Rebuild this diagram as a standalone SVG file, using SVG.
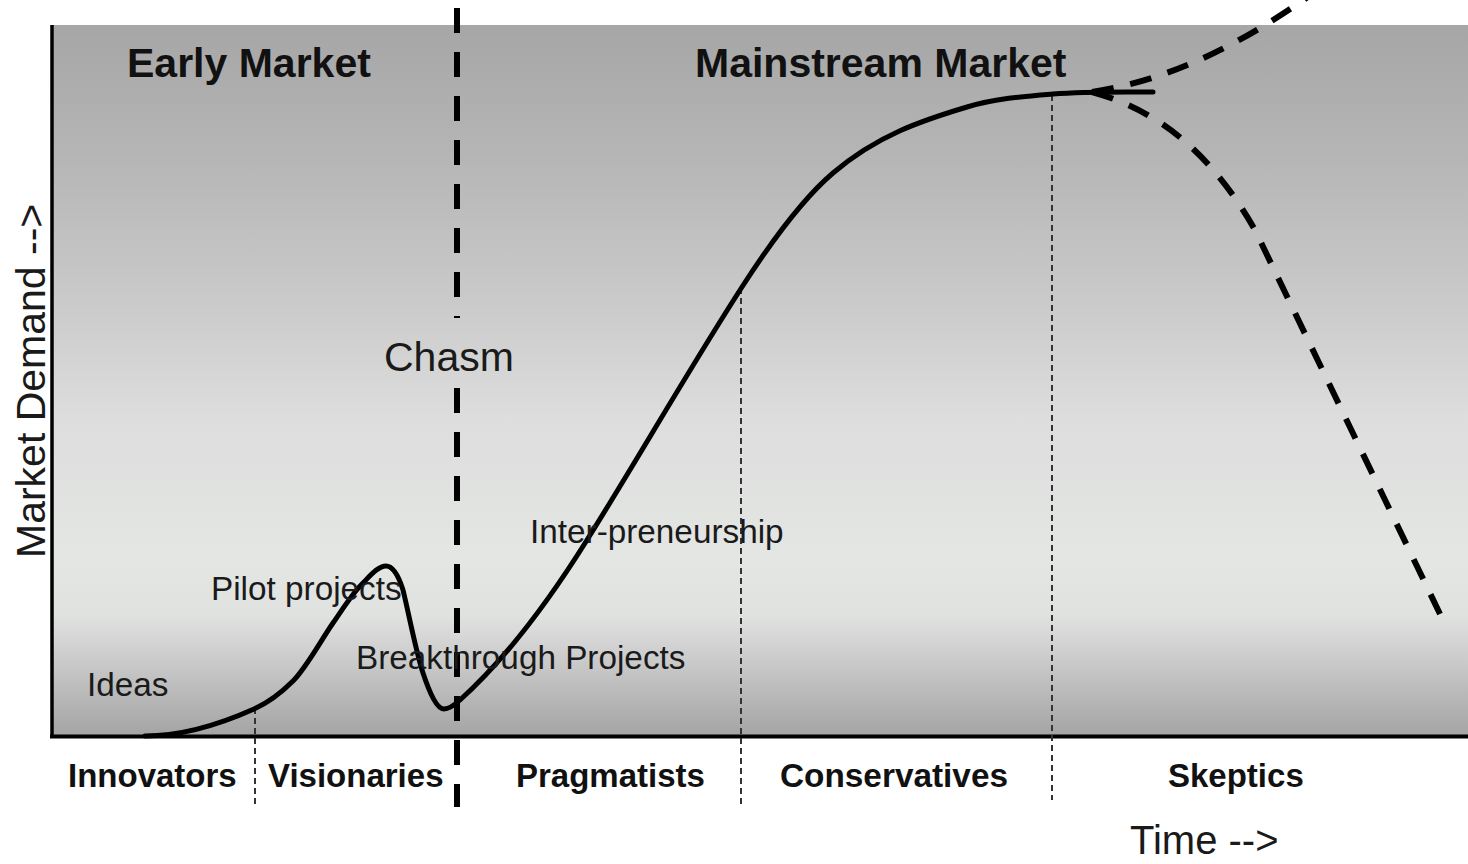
<svg xmlns="http://www.w3.org/2000/svg" width="1468" height="864" viewBox="0 0 1468 864">
<defs>
<linearGradient id="bg" x1="0" y1="0" x2="0" y2="1">
<stop offset="0" stop-color="#a6a6a6"/>
<stop offset="0.18" stop-color="#b5b5b5"/>
<stop offset="0.39" stop-color="#cacaca"/>
<stop offset="0.55" stop-color="#dcdddc"/>
<stop offset="0.75" stop-color="#e4e6e4"/>
<stop offset="0.83" stop-color="#e0e2e0"/>
<stop offset="0.9" stop-color="#c8c8c8"/>
<stop offset="1" stop-color="#a4a4a4"/>
</linearGradient>
<style>
text{font-family:"Liberation Sans",Arial,sans-serif;fill:#111}
.h{font-weight:bold;font-size:41px}
.seg{font-weight:bold;font-size:33px}
.lbl{font-size:33.3px;fill:#1a1a1a}
.big{font-size:41px;fill:#1a1a1a}
.dot{stroke:#333;stroke-width:2;stroke-dasharray:6 4;fill:none}
.curve{stroke:#000;stroke-width:5;fill:none;stroke-linecap:round;stroke-linejoin:round}
.fut{stroke:#000;stroke-width:6;fill:none;stroke-dasharray:22 17}
</style>
</defs>
<rect width="1468" height="864" fill="#fff"/>
<g id="plot-area">
<rect x="52" y="25" width="1416" height="711" fill="url(#bg)"/>
</g>
<g id="axes">
<line x1="52" y1="25" x2="52" y2="738" stroke="#000" stroke-width="3.5"/>
<line x1="50" y1="736.5" x2="1468" y2="736.5" stroke="#000" stroke-width="4"/>
</g>
<g id="dividers">
<line class="dot" x1="255" y1="708" x2="255" y2="805"/>
<line class="dot" x1="741" y1="288" x2="741" y2="805"/>
<line class="dot" x1="1052" y1="95" x2="1052" y2="800"/>
</g>
<g id="chasm-line">
<line x1="457" y1="8" x2="457" y2="318" stroke="#000" stroke-width="6" stroke-dasharray="25 19"/>
<line x1="457" y1="388" x2="457" y2="807" stroke="#000" stroke-width="6" stroke-dasharray="25 19"/>
</g>
<g id="connectors">
<path class="curve" d="M145,736 C181.3,736 217.7,725.3 254,709 C267,703.2 280,694 293,681 C306.3,667.7 319.7,642.3 333,623 C342.7,608.9 352.3,593.7 362,584 C370,576 378,566 386,566 C391.3,566 397,571 403,590 C409,614.5 416,652 423,673 C430,694 437,709 444,709 C449.3,709 454.7,704.8 460,700 C502.3,661.9 544.7,607.7 587,540 C638.7,457.3 690.3,367.1 742,287 C772.3,240 802.7,198.8 833,173 C877.7,135 922.3,120.4 967,107 C995.7,98.4 1024.3,96.3 1053,94 C1086.3,91.3 1119.7,92 1153,92"/>
<path class="fut" d="M1092,92 C1170,80 1240,45 1312,-6"/>
<path class="fut" d="M1092,92 C1165,112 1215,160 1255,230 L1440,614"/>
</g>
<g id="labels">
<text class="h" x="127" y="77">Early Market</text>
<text class="h" x="695" y="77">Mainstream Market</text>
<text class="big" x="384" y="371">Chasm</text>
<text class="lbl" x="530" y="543">Inter-preneurship</text>
<text class="lbl" x="211" y="600">Pilot projects</text>
<text class="lbl" x="356" y="669">Breakthrough Projects</text>
<text class="lbl" x="87" y="696">Ideas</text>
<text class="seg" x="68" y="787">Innovators</text>
<text class="seg" x="268" y="787">Visionaries</text>
<text class="seg" x="516" y="787">Pragmatists</text>
<text class="seg" x="780" y="787" textLength="228" lengthAdjust="spacingAndGlyphs">Conservatives</text>
<text class="seg" x="1168" y="787">Skeptics</text>
<text class="big" x="1130" y="854" style="font-size:40px">Time --&gt;</text>
<text class="big" transform="translate(45,558) rotate(-90)">Market Demand --&gt;</text>
</g>
</svg>
